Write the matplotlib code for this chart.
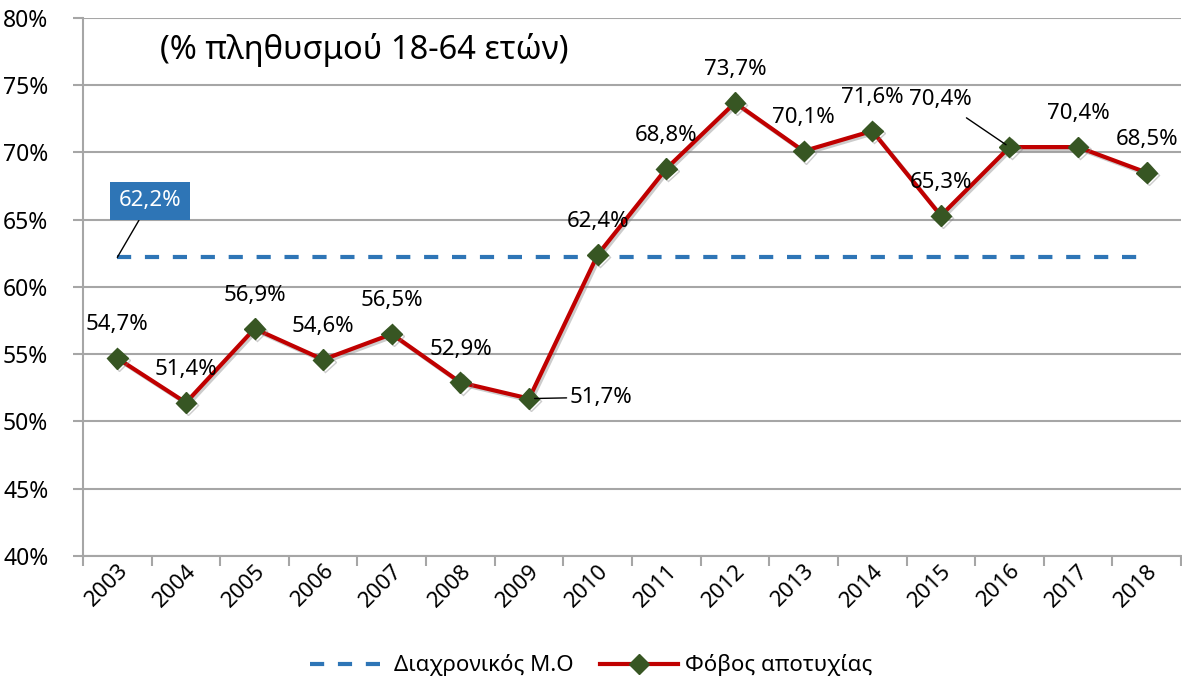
import numpy as np
import matplotlib.pyplot as plt
import matplotlib.patheffects as pe
from matplotlib.lines import Line2D

plt.rcParams['font.family'] = ['Noto Sans', 'DejaVu Sans']

years = [str(y) for y in range(2003, 2019)]
fear = [54.7, 51.4, 56.9, 54.6, 56.5, 52.9, 51.7, 62.4, 68.8, 73.7, 70.1, 71.6, 65.3, 70.4, 70.4, 68.5]
avg = 62.2

red = '#C00000'
green = '#375623'
blue = '#2E75B6'
grid = '#A6A6A6'
fs = 16

fig = plt.figure(figsize=(11.82, 6.81), dpi=100)
ax = fig.add_axes([0.0702, 0.1836, 0.929, 0.790])

x = np.arange(len(years))
ax.plot(x, [avg] * len(x), color=blue, lw=3, dashes=(3.4, 3.3), zorder=2)
shadow = [pe.SimpleLineShadow(offset=(1.5, -1.5), shadow_color='gray', alpha=0.4), pe.Normal()]
ax.plot(x, fear, color=red, lw=3, marker='D', ms=10.5, mfc=green, mec=green, zorder=3,
        path_effects=shadow)

ax.set_xlim(-0.5, len(years) - 0.5)
ax.set_ylim(40, 80)
ax.set_yticks(np.arange(40, 81, 5))
ax.set_yticklabels([f'{v}%' for v in range(40, 81, 5)], fontsize=16.5)
ax.set_xticks(np.arange(-0.5, len(years), 1), minor=False)
ax.set_xticklabels([])
ax.set_xticks(x, minor=True)
ax.set_xticklabels(years, minor=True, rotation=45, ha='right', va='top',
                   rotation_mode='anchor', fontsize=fs)
ax.tick_params(axis='x', which='minor', length=0, pad=3)
ax.tick_params(axis='x', which='major', length=7, color=grid, width=1.5)
ax.tick_params(axis='y', length=7, color=grid, width=1.5, pad=18)
ax.grid(axis='y', color=grid, lw=1.5)
ax.set_axisbelow(True)
for s in ['top', 'right']:
    ax.spines[s].set_visible(False)
ax.spines['left'].set_color(grid)
ax.spines['bottom'].set_color(grid)
ax.spines['left'].set_linewidth(1.5)
ax.spines['bottom'].set_linewidth(1.5)

# value labels
for i, v in enumerate(fear):
    lab = f'{v:.1f}%'.replace('.', ',')
    if years[i] == '2009':
        ax.annotate(lab, (i, v), xytext=(29, 1), textcoords='offset points',
                    ha='left', va='center', fontsize=fs,
                    arrowprops=dict(arrowstyle='-', color='black', lw=1, shrinkA=0, shrinkB=4))
    elif years[i] == '2016':
        ax.annotate(lab, (i, v), xytext=(-50, 34), textcoords='offset points',
                    ha='center', va='center', fontsize=fs,
                    arrowprops=dict(arrowstyle='-', color='black', lw=1, shrinkA=6, shrinkB=3))
    else:
        ax.annotate(lab, (i, v), xytext=(0, 24), textcoords='offset points',
                    ha='center', va='center', fontsize=fs)

ax.annotate(f'{avg:.1f}%'.replace('.', ','), (0, avg), xytext=(0.48, 66.4), textcoords='data',
            ha='center', va='center', color='white', fontsize=fs,
            bbox=dict(boxstyle='square,pad=0.4', fc=blue, ec='none'),
            arrowprops=dict(arrowstyle='-', color='black', lw=1, shrinkA=0, shrinkB=0))

ax.text(0.07, 0.94, '(% πληθυσμού 18-64 ετών)', transform=ax.transAxes,
        fontsize=23.5, ha='left', va='center')

handles = [Line2D([], [], color=blue, lw=3, dashes=(3.4, 3.3)),
           Line2D([], [], color=red, lw=3, marker='D', ms=10.5, mfc=green, mec=green)]
fig.legend(handles, ['Διαχρονικός Μ.Ο', 'Φόβος αποτυχίας'], loc='center',
           bbox_to_anchor=(0.5, 0.023), ncol=2, frameon=False, fontsize=fs,
           handlelength=3.5, columnspacing=1.2, handletextpad=0.3)

fig.savefig('out.png', dpi=100)
